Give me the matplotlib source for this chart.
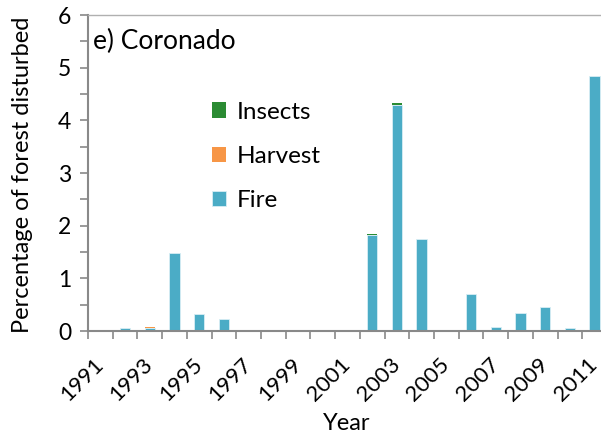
import numpy as np
import matplotlib.pyplot as plt

plt.rcParams['font.family'] = ['Lato', 'DejaVu Sans']

years = list(range(1991, 2012))
fire = [0.0, 0.05, 0.06, 1.48, 0.32, 0.23, 0.0, 0.0, 0.015, 0.0, 0.0,
        1.82, 4.30, 1.75, 0.0, 0.70, 0.07, 0.34, 0.45, 0.05, 4.85]
harvest = [0.0, 0.0, 0.025, 0.0, 0.01, 0.0, 0.015, 0.0, 0.0, 0.015, 0.0,
           0.0, 0.0, 0.0, 0.0, 0.0, 0.0, 0.0, 0.0, 0.01, 0.0]
insects = [0.0, 0.0, 0.0, 0.0, 0.0, 0.0, 0.0, 0.0, 0.0, 0.0, 0.0,
           0.03, 0.02, 0.0, 0.0, 0.0, 0.0, 0.0, 0.0, 0.0, 0.0]

fire_c = '#4BACC6'
harvest_c = '#F79646'
insects_c = '#2B8B33'
axis_c = '#898989'

fig = plt.figure(figsize=(6.01, 4.38), dpi=100)
ax = fig.add_axes([88 / 601, 1 - 331 / 438, 519 / 601, 316 / 438])

x = np.arange(len(years))
fire = np.array(fire)
harvest = np.array(harvest)
insects = np.array(insects)
w = 0.42
ax.bar(x, fire, w, color=fire_c, edgecolor='#d8eef4', linewidth=0.6, label='Fire')
ax.bar(x, harvest, w, bottom=fire, color=harvest_c, linewidth=0, label='Harvest')
ax.bar(x, insects, w, bottom=fire + harvest, color=insects_c, linewidth=0, label='Insects')

ax.set_xlim(-0.5, len(years) - 0.5)
ax.set_ylim(0, 6)
ax.set_yticks(range(0, 7))
ax.set_yticks(np.arange(0.5, 6, 1), minor=True)
ax.tick_params(axis='y', which='both', labelsize=16.5, length=6, color=axis_c,
               width=1.2, pad=6)
ax.set_xticks(x[::2])
ax.set_xticklabels([str(y) for y in years[::2]], rotation=45, ha='right',
                   va='center', rotation_mode='anchor', fontsize=16)
ax.set_xticks(np.arange(-0.5, len(years), 1), minor=True)
ax.tick_params(axis='x', which='major', length=0, pad=22)
ax.tick_params(axis='x', which='minor', length=6, color=axis_c, width=1.2)

ax.spines['right'].set_visible(False)
for s in ['left', 'bottom', 'top']:
    ax.spines[s].set_color(axis_c)
    ax.spines[s].set_linewidth(1.5)
ax.spines['top'].set_linewidth(1.0)
ax.spines['top'].set_color('#b0b0b0')

ax.set_ylabel('Percentage of forest disturbed', fontsize=17)
ax.yaxis.set_label_coords(-(88 - 33) / 519, (331 - 175) / 316)
ax.set_xlabel('Year', fontsize=17)
ax.xaxis.set_label_coords((347 - 88) / 519, -(413 - 331) / 316)

ax.text(5 / 519, (331 - 29) / 316, 'e) Coronado', transform=ax.transAxes,
        fontsize=19, va='top', ha='left')

handles, labels = ax.get_legend_handles_labels()
ax.legend(handles[::-1], labels[::-1], loc='upper left',
          bbox_to_anchor=((202 - 88) / 519, (331 - 92) / 316), frameon=False,
          fontsize=17.5, handlelength=0.6, handleheight=0.6, labelspacing=0.95,
          handletextpad=0.45, borderaxespad=0)

fig.savefig('out.png', dpi=100)
